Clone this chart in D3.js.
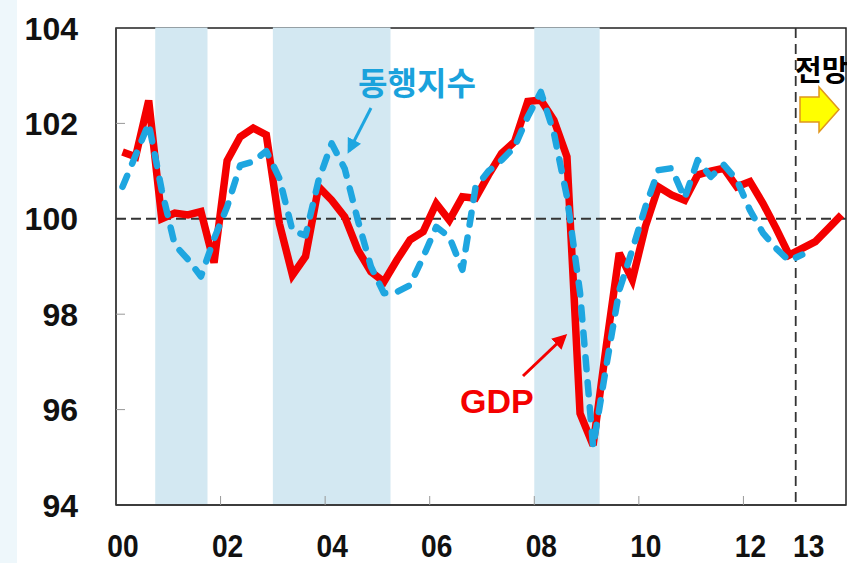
<!DOCTYPE html>
<html>
<head>
<meta charset="utf-8">
<script src="https://cdn.jsdelivr.net/npm/d3@7"></script>
<style>
  html, body { margin: 0; padding: 0; background: #ffffff; }
  svg { display: block; }
</style>
</head>
<body>
<svg id="chart" width="847" height="563"></svg>
<script>
// ---- data (quarterly, 2000Q1 onward) ----
const startYear = 2000;
const gdp = [101.4, 101.3, 102.48, 100.0, 100.12, 100.08, 100.15, 99.08,
             101.22, 101.72, 101.9, 101.76, 99.9, 98.82, 99.21, 100.67,
             100.39, 100.04, 99.35, 98.89, 98.68, 99.14, 99.56, 99.73,
             100.32, 99.97, 100.46, 100.43, 100.92, 101.37, 101.62, 102.46,
             102.49, 102.07, 101.3, 95.92, 95.25, 97.32, 99.28, 98.72,
             99.84, 100.67, 100.5, 100.39, 100.92, 101.0, 101.06, 100.67,
             100.78, 100.32, 99.8, 99.24, 99.38, 99.52, 99.8, 100.08];
const coincident = [100.67, 101.33, 102.0, 100.6, 99.45, 99.15, 98.79, 99.58,
                    100.25, 101.12, 101.2, 101.42, 100.85, 99.75, 99.65, 100.81,
                    101.58, 101.05, 99.97, 99.0, 98.44, 98.47, 98.61, 99.2,
                    99.83, 99.62, 98.93, 100.65, 101.0, 101.23, 101.51, 102.14,
                    102.66, 101.8, 100.46, 98.45, 95.22, 96.9, 98.5, 99.35,
                    100.25, 101.02, 101.06, 100.43, 101.23, 100.88, 101.13, 100.81,
                    100.18, 99.7, 99.38, 99.12, 99.25];
const shadedPeriods = [[2000.75, 2001.75], [2003.0, 2005.25], [2008.0, 2009.25]];
const yTicks = [94, 96, 98, 100, 102, 104];
const xTickYears = [2000, 2002, 2004, 2006, 2008, 2010, 2012];
const xTickLabels = ["00", "02", "04", "06", "08", "10", "12"];
const forecastYear = 2013;
const forecastLabel = "13";
const baseline = 100;
const labelCoincident = "동행지수";
const labelGdp = "GDP";
const labelForecast = "전망";

// ---- layout ----
const svg = d3.select("#chart");
const L = 116, R = 846, T = 28, B = 505;
const x = d3.scaleLinear().domain([2000, 2014]).range([L, 848]);
const y = d3.scaleLinear().domain([94, 104]).range([B, T]);
const qx = i => x(startYear + (i + 0.5) / 4);

const latin = "'Liberation Sans', Arial, Helvetica, sans-serif";
const kor = "'Noto Sans CJK KR', 'Noto Sans CJK SC', sans-serif";
const RED = "#f40000";
const BLUE = "#1ea6e0";

// left light strip
svg.append("rect").attr("x", 0).attr("y", 0).attr("width", 17).attr("height", 563).attr("fill", "#eef7fb");

// frame
svg.append("rect").attr("x", L).attr("y", T).attr("width", R - L).attr("height", B - T)
  .attr("fill", "#ffffff").attr("stroke", "#222").attr("stroke-width", 1.5);

// shaded periods
svg.append("g").selectAll("rect").data(shadedPeriods).join("rect")
  .attr("x", d => x(d[0])).attr("width", d => x(d[1]) - x(d[0]))
  .attr("y", T - 0.5).attr("height", B - T - 0.5)
  .attr("fill", "#d3e8f2");

// axis lines left/bottom redrawn on top
svg.append("line").attr("x1", L).attr("x2", L).attr("y1", T).attr("y2", B).attr("stroke", "#444").attr("stroke-width", 1.6);
svg.append("line").attr("x1", L).attr("x2", R).attr("y1", B).attr("y2", B).attr("stroke", "#333").attr("stroke-width", 1.6);

// y ticks (small inward ticks)
svg.append("g").selectAll("line").data(yTicks.filter(v => v !== 94 && v !== 104)).join("line")
  .attr("x1", L).attr("x2", L + 9).attr("y1", d => y(d)).attr("y2", d => y(d))
  .attr("stroke", "#999").attr("stroke-width", 1);

// x ticks (inward, upward)
svg.append("g").selectAll("line").data(xTickYears.filter(v => v !== 2000)).join("line")
  .attr("x1", d => x(d)).attr("x2", d => x(d)).attr("y1", B).attr("y2", B - 9)
  .attr("stroke", "#999").attr("stroke-width", 1);

// y labels
svg.append("g").selectAll("text").data(yTicks).join("text")
  .attr("x", 78).attr("y", d => y(d) + 11.5)
  .attr("text-anchor", "end")
  .attr("font-family", latin).attr("font-weight", "bold").attr("font-size", 32)
  .attr("fill", "#111")
  .text(d => d);

// x labels (condensed)
const xl = svg.append("g");
xTickYears.forEach((yr, i) => {
  xl.append("text")
    .attr("transform", `translate(${x(yr) + 7},557) scale(0.88,1)`)
    .attr("text-anchor", "middle")
    .attr("font-family", latin).attr("font-weight", "bold").attr("font-size", 32)
    .attr("fill", "#111").text(xTickLabels[i]);
});
xl.append("text")
  .attr("transform", `translate(${x(forecastYear) + 13},557) scale(0.88,1)`)
  .attr("text-anchor", "middle")
  .attr("font-family", latin).attr("font-weight", "bold").attr("font-size", 32)
  .attr("fill", "#111").text(forecastLabel);

// baseline dashed at 100
svg.append("line").attr("x1", L).attr("x2", R).attr("y1", y(baseline)).attr("y2", y(baseline))
  .attr("stroke", "#333").attr("stroke-width", 2).attr("stroke-dasharray", "10,5");

// forecast vertical dashed line
svg.append("line").attr("x1", x(forecastYear)).attr("x2", x(forecastYear)).attr("y1", T).attr("y2", B + 3)
  .attr("stroke", "#333").attr("stroke-width", 1.8).attr("stroke-dasharray", "10,6");

// lines
const line = d3.line().x((d, i) => qx(i)).y(d => y(d));
svg.append("path").datum(gdp).attr("d", line)
  .attr("fill", "none").attr("stroke", RED).attr("stroke-width", 7.5)
  .attr("stroke-linejoin", "miter").attr("stroke-miterlimit", 3);
svg.append("path").datum(coincident).attr("d", line)
  .attr("fill", "none").attr("stroke", BLUE).attr("stroke-width", 6.5)
  .attr("stroke-linecap", "round").attr("stroke-linejoin", "round")
  .attr("stroke-dasharray", "12,13");

// arrow markers
const defs = svg.append("defs");
function marker(id, color) {
  defs.append("marker").attr("id", id).attr("viewBox", "0 0 10 10")
    .attr("refX", 8).attr("refY", 5).attr("markerWidth", 5).attr("markerHeight", 5)
    .attr("markerUnits", "strokeWidth").attr("orient", "auto")
    .append("path").attr("d", "M0,0 L10,5 L0,10 z").attr("fill", color);
}
marker("arrB", BLUE);
marker("arrR", RED);

// 동행지수 label + arrow
svg.append("text").attr("x", 417).attr("y", 95).attr("text-anchor", "middle")
  .attr("font-family", kor).attr("font-weight", "bold").attr("font-size", 32)
  .attr("fill", "#1aa2dc").text(labelCoincident);
svg.append("line").attr("x1", 371).attr("y1", 108).attr("x2", 349).attr("y2", 151)
  .attr("stroke", BLUE).attr("stroke-width", 3).attr("marker-end", "url(#arrB)");

// GDP label + arrow
svg.append("text").attr("x", 460).attr("y", 413)
  .attr("font-family", latin).attr("font-weight", "bold").attr("font-size", 34)
  .attr("fill", RED).text(labelGdp);
svg.append("line").attr("x1", 523).attr("y1", 376).attr("x2", 565).attr("y2", 336)
  .attr("stroke", RED).attr("stroke-width", 3).attr("marker-end", "url(#arrR)");

// 전망 label + yellow block arrow
svg.append("text").attr("x", 795).attr("y", 81)
  .attr("font-family", kor).attr("font-weight", "bold").attr("font-size", 29)
  .attr("fill", "#000").text(labelForecast);
svg.append("polygon")
  .attr("points", "800,97 819,97 819,87 839,109.5 819,132 819,122 800,122")
  .attr("fill", "#ffff00").attr("stroke", "#e0961c").attr("stroke-width", 1.5);
</script>
</body>
</html>
